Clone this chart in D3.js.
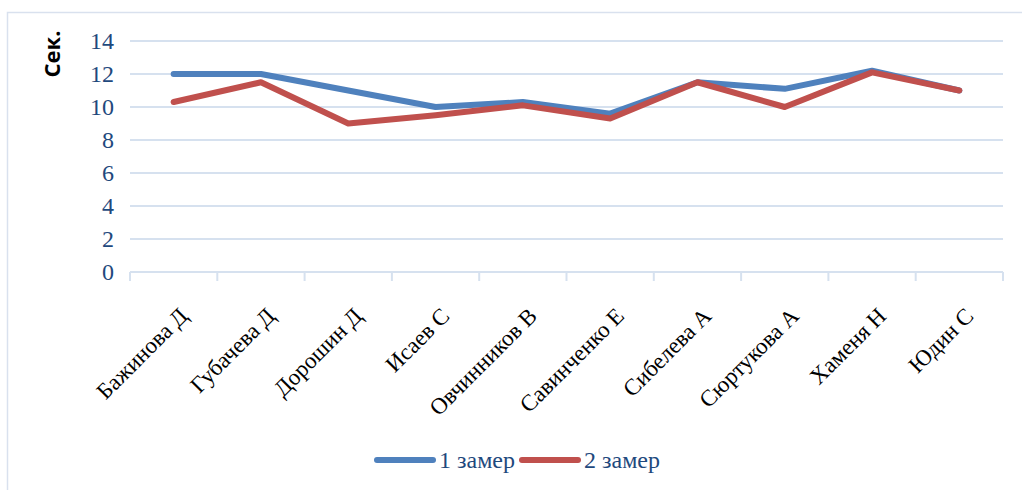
<!DOCTYPE html>
<html>
<head>
<meta charset="utf-8">
<script src="https://cdn.jsdelivr.net/npm/d3@7"></script>
<style>
  html, body { margin: 0; padding: 0; background: #fff; }
  svg { display: block; }
</style>
</head>
<body>
<svg id="chart" width="1022" height="490"></svg>
<script>
// Participants (x-axis categories)
const categories = ["Бажинова Д", "Губачева Д", "Дорошин Д", "Исаев С", "Овчинников В",
  "Савинченко Е", "Сибелева А", "Сюртукова А", "Хаменя Н", "Юдин С"];
// Time in seconds, first and second measurement
const series1 = [12.0, 12.0, 11.0, 10.0, 10.3, 9.6, 11.5, 11.1, 12.2, 11.0];
const series2 = [10.3, 11.5, 9.0, 9.5, 10.1, 9.3, 11.5, 10.0, 12.1, 11.0];
const seriesNames = ["1 замер", "2 замер"];
const yTicks = [0, 2, 4, 6, 8, 10, 12, 14];

const colors = ["#4F81BD", "#C0504D"];
const gridColor = "#D6E1EF";
const tickColor = "#1F497D";
const serif = "'Liberation Serif', 'Times New Roman', serif";

const svg = d3.select("#chart");

// Outer chart frame
svg.append("rect")
  .attr("x", 7.5).attr("y", 12.5)
  .attr("width", 1030).attr("height", 500)
  .attr("fill", "none").attr("stroke", "#D9E1EE").attr("stroke-width", 1.5);

const plot = { left: 130, right: 1003, top: 41, bottom: 272 };

const x = d3.scaleBand().domain(categories).range([plot.left, plot.right]).padding(0);
const y = d3.scaleLinear().domain([0, 14]).range([plot.bottom, plot.top]);

// Horizontal gridlines
svg.append("g")
  .selectAll("line")
  .data(yTicks.filter(d => d > 0))
  .join("line")
  .attr("x1", plot.left).attr("x2", plot.right)
  .attr("y1", d => y(d)).attr("y2", d => y(d))
  .attr("stroke", gridColor).attr("stroke-width", 2);

// Y axis labels
const yAxis = d3.axisLeft(y).tickValues(yTicks).tickSize(0).tickPadding(16);
svg.append("g")
  .attr("transform", `translate(${plot.left},0)`)
  .call(yAxis)
  .call(g => g.select(".domain").remove())
  .call(g => g.selectAll("text")
    .attr("font-family", serif)
    .attr("font-size", 24)
    .attr("fill", tickColor));

// X axis with ticks between categories
svg.append("line")
  .attr("x1", plot.left).attr("x2", plot.right)
  .attr("y1", plot.bottom).attr("y2", plot.bottom)
  .attr("stroke", gridColor).attr("stroke-width", 2);

const boundaries = categories.map(c => x(c)).concat([plot.right]);
svg.append("g")
  .selectAll("line")
  .data(boundaries)
  .join("line")
  .attr("x1", d => d).attr("x2", d => d)
  .attr("y1", plot.bottom).attr("y2", plot.bottom + 9)
  .attr("stroke", gridColor).attr("stroke-width", 2);

// Rotated category labels
svg.append("g")
  .selectAll("text")
  .data(categories)
  .join("text")
  .attr("transform", d => `translate(${x(d) + x.bandwidth() / 2 + 4},${plot.bottom + 34}) rotate(-45)`)
  .attr("text-anchor", "end")
  .attr("dy", "0.7em")
  .attr("font-family", serif)
  .attr("font-size", 23)
  .attr("fill", "#000")
  .text(d => d);

// Y axis title
svg.append("text")
  .attr("transform", "translate(60,54) rotate(-90)")
  .attr("text-anchor", "middle")
  .attr("font-family", "'Open Sans', 'DejaVu Sans', sans-serif")
  .attr("font-weight", "bold")
  .attr("font-size", 22)
  .attr("fill", "#000")
  .text("Сек.");

// Series lines
const line = d3.line()
  .x((d, i) => x(categories[i]) + x.bandwidth() / 2)
  .y(d => y(d));

[series1, series2].forEach((s, k) => {
  svg.append("path")
    .datum(s)
    .attr("d", line)
    .attr("fill", "none")
    .attr("stroke", colors[k])
    .attr("stroke-width", 6)
    .attr("stroke-linejoin", "round")
    .attr("stroke-linecap", "round");
});

// Legend
const legendItems = [
  { name: seriesNames[0], color: colors[0], x: 377 },
  { name: seriesNames[1], color: colors[1], x: 522 }
];
const lg = svg.append("g");
legendItems.forEach(it => {
  lg.append("line")
    .attr("x1", it.x).attr("x2", it.x + 56)
    .attr("y1", 460).attr("y2", 460)
    .attr("stroke", it.color).attr("stroke-width", 6)
    .attr("stroke-linecap", "round");
  lg.append("text")
    .attr("x", it.x + 62).attr("y", 468)
    .attr("font-family", serif)
    .attr("font-size", 24)
    .attr("fill", tickColor)
    .text(it.name);
});
</script>
</body>
</html>
